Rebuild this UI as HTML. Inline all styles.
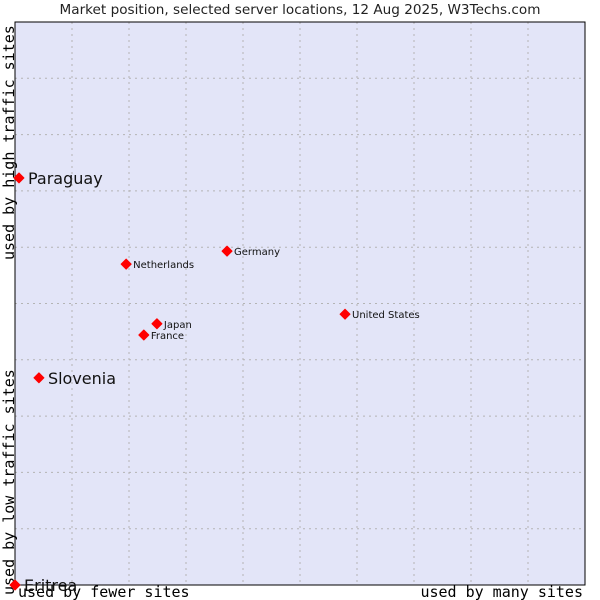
<!DOCTYPE html>
<html><head><meta charset="utf-8"><style>
html,body{margin:0;padding:0;background:#fff;width:600px;height:600px;overflow:hidden}
svg{display:block}
</style></head><body>
<svg id="chart" width="600" height="600" xmlns="http://www.w3.org/2000/svg">
<text x="300" y="14" text-anchor="middle" font-family="DejaVu Sans, sans-serif" font-size="13.6" fill="#222">Market position, selected server locations, 12 Aug 2025, W3Techs.com</text>
<rect x="15" y="22" width="570" height="563" fill="#e3e5f8"/>
<g id="grid"></g>
<rect x="15" y="22" width="570" height="563" fill="none" stroke="#000" stroke-width="1"/>
<text transform="translate(14,260) rotate(-90)" font-family="DejaVu Sans Mono, monospace" font-size="15" fill="#000">used by high traffic sites</text>
<text transform="translate(14,595) rotate(-90)" font-family="DejaVu Sans Mono, monospace" font-size="15" fill="#000">used by low traffic sites</text>
<text x="18" y="597" font-family="DejaVu Sans Mono, monospace" font-size="15" fill="#000">used by fewer sites</text>
<text x="583" y="597" text-anchor="end" font-family="DejaVu Sans Mono, monospace" font-size="15" fill="#000">used by many sites</text>
<g id="points"></g>
</svg>
<script>
const names = ["Paraguay","Slovenia","Eritrea","Netherlands","Germany","United States","Japan","France"];
const xValues = [0.7,4.2,0,19.5,37.2,57.9,24.9,22.6];
const yValues = [72.3,36.8,0,57.0,59.3,48.1,46.4,44.4];
const bigLabel = [true,true,true,false,false,false,false,false];
const gridTicks = [10,20,30,40,50,60,70,80,90];
const NS="http://www.w3.org/2000/svg";
const L=15,T=22,W=570,H=563;
function xs(v){return L+v/100*W;}
function ys(v){return T+H-v/100*H;}
const grid=document.getElementById('grid');
gridTicks.forEach(t=>{
  const v=document.createElementNS(NS,'line');
  v.setAttribute('x1',xs(t));v.setAttribute('x2',xs(t));v.setAttribute('y1',T);v.setAttribute('y2',T+H);
  v.setAttribute('stroke','#b4b4b4');v.setAttribute('stroke-dasharray','2,4');
  
  
  grid.appendChild(v);
  const h=document.createElementNS(NS,'line');
  h.setAttribute('x1',L);h.setAttribute('x2',L+W);h.setAttribute('y1',ys(t));h.setAttribute('y2',ys(t));
  h.setAttribute('stroke','#b4b4b4');h.setAttribute('stroke-dasharray','2,4');
  
  
  grid.appendChild(h);
});
const pts=document.getElementById('points');
names.forEach((n,i)=>{
  const cx=xs(xValues[i]),cy=ys(yValues[i]);
  const s=5;
  const d=document.createElementNS(NS,'path');
  d.setAttribute('d',`M${cx-s},${cy}L${cx},${cy-s}L${cx+s},${cy}L${cx},${cy+s}Z`);
  d.setAttribute('fill','#f00');
  d.setAttribute('stroke','#f00');
  d.setAttribute('stroke-linejoin','round');
  
  
  pts.appendChild(d);
  const t=document.createElementNS(NS,'text');
  t.setAttribute('x',cx+(bigLabel[i]?9:7));
  t.setAttribute('y',cy+(bigLabel[i]?6:4));
  t.setAttribute('font-family','DejaVu Sans, sans-serif');
  t.setAttribute('font-size',bigLabel[i]?'16':'10');
  t.setAttribute('fill','#111');
  t.textContent=n;
  
  
  pts.appendChild(t);
});
</script>
</body></html>
